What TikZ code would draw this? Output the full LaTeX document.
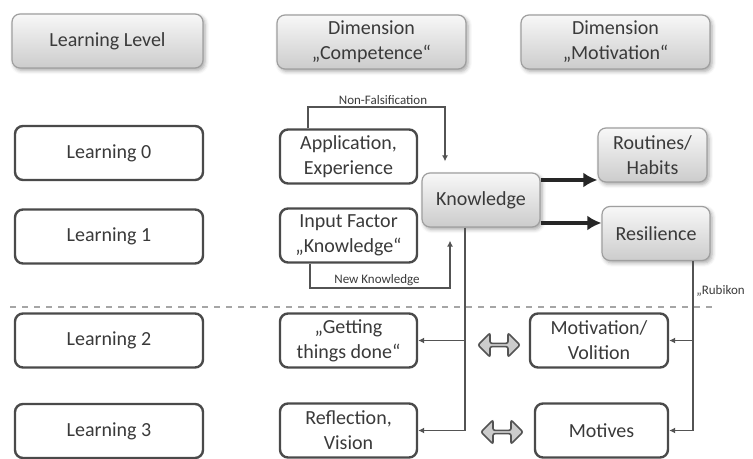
\documentclass[tikz,border=0pt]{standalone}
\usepackage{fontspec}
\setmainfont{Carlito}
\usepackage{tikz}
\usetikzlibrary{positioning, shapes.arrows, shadows.blur, arrows.meta}
\definecolor{boxline}{HTML}{4A4A4A}
\definecolor{txt}{HTML}{3A3A3A}
\tikzset{
	levelbox/.style={draw=boxline, line width=1.2pt, rounded corners=4pt, fill=white, text=txt, minimum height=27pt, align=center, inner sep=1pt, font=\fontsize{10}{12.5}\selectfont},
	greybox/.style={draw=gray!75, line width=0.6pt, rounded corners=4pt, top color=gray!6, bottom color=gray!40, text=txt, minimum height=27pt, align=center, inner sep=1pt, font=\fontsize{10}{12.5}\selectfont, blur shadow={shadow xshift=1pt, shadow yshift=-1.2pt, shadow blur steps=4, shadow opacity=35}},
	link/.style={draw=gray!65!black, line width=0.6pt, -{Latex[length=3pt,width=3pt]}},
	bigarrow/.style={draw=black!85, line width=1.6pt, -{Latex[length=7pt,width=7.5pt]}},
	twoway/.style={double arrow, draw=gray!65!black, fill=gray!40, line width=0.8pt, rounded corners=1pt, minimum height=21pt, minimum width=12pt, double arrow head extend=2.5pt, inner sep=0pt},
	smalllabel/.style={text=txt, inner sep=1pt, font=\fontsize{6.5}{7}\selectfont}
}
\begin{document}
\begin{tikzpicture}[x=0.5pt, y=-0.5pt]
	\useasboundingbox (0,0) rectangle (753,459);
	%Header boxes
	\node[greybox, minimum width=95.5pt] (hlevel) at (107.5,41) {Learning Level};
	\node[greybox, minimum width=94.5pt] (hcomp) at (371.5,42) {Dimension\\„Competence“};
	\node[greybox, minimum width=94.5pt] (hmot) at (615.5,42) {Dimension\\„Motivation“};
	%Learning levels
	\node[levelbox, minimum width=94pt] (lzero) at (109,153) {Learning 0};
	\node[levelbox, minimum width=94pt] (lone) at (109,236.5) {Learning 1};
	\node[levelbox, minimum width=94pt] (ltwo) at (109,340.5) {Learning 2};
	\node[levelbox, minimum width=94pt] (lthree) at (109,431) {Learning 3};
	%Competence column
	\node[levelbox, minimum width=68.5pt] (app) at (348.5,156.5) {Application,\\Experience};
	\node[levelbox, minimum width=68.5pt] (inp) at (348.5,235.5) {Input Factor\\„Knowledge“};
	\node[levelbox, minimum width=68.5pt] (gtd) at (348.5,340.5) {„Getting\\things done“};
	\node[levelbox, minimum width=68.5pt] (refl) at (348.5,430.5) {Reflection,\\Vision};
	\node[greybox, minimum width=59pt] (know) at (481,200) {Knowledge};
	%Motivation column
	\node[greybox, minimum width=54.5pt] (rout) at (652.5,155) {Routines/\\Habits};
	\node[greybox, minimum width=54pt] (resil) at (656,233.5) {Resilience};
	\node[levelbox, minimum width=69pt] (motvol) at (599,340.5) {Motivation/\\Volition};
	\node[levelbox, minimum width=66.5pt] (motv) at (601.5,430.5) {Motives};
	\node[twoway] (twa) at (499,345) {};
	\node[twoway] (twb) at (502,432) {};
	%Rubikon line
	\draw[gray!70, dashed, line width=0.8pt] (10,307) -- (712,307);
	\node[smalllabel, anchor=west] (rubikon) at (694,291) {„Rubikon};
	%Non-Falsification loop
	\coordinate (nfl) at (308,107);
	\coordinate (nfr) at (445,107);
	\draw[link, shorten >=5.5pt] (app.north -| nfl) -- (nfl) -- (nfr) -- (know.north -| nfr);
	\node[smalllabel, above] (nflabel) at (383,107) {Non-Falsification};
	%New Knowledge loop
	\coordinate (nkl) at (310,288);
	\coordinate (nkr) at (450,288);
	\draw[link, shorten >=6.5pt] (inp.south -| nkl) -- (nkl) -- (nkr) -- (know.south -| nkr);
	\node[smalllabel, above] (nklabel) at (377,288) {New Knowledge};
	%Knowledge to motivation
	\coordinate (ka) at (0,180);
	\coordinate (kb) at (0,223);
	\draw[bigarrow] (know.east |- ka) -- (rout.west |- ka);
	\draw[bigarrow] (know.east |- kb) -- (resil.west |- kb);
	%Knowledge down
	\coordinate (kx) at (465,0);
	\draw[link] (know.south -| kx) |- (refl.east);
	\draw[link] (kx |- gtd.east) -- (gtd.east);
	%Resilience down
	\coordinate (rx) at (693,0);
	\draw[link] (resil.south -| rx) |- (motv.east);
	\draw[link] (rx |- motvol.east) -- (motvol.east);
\end{tikzpicture}
\end{document}
